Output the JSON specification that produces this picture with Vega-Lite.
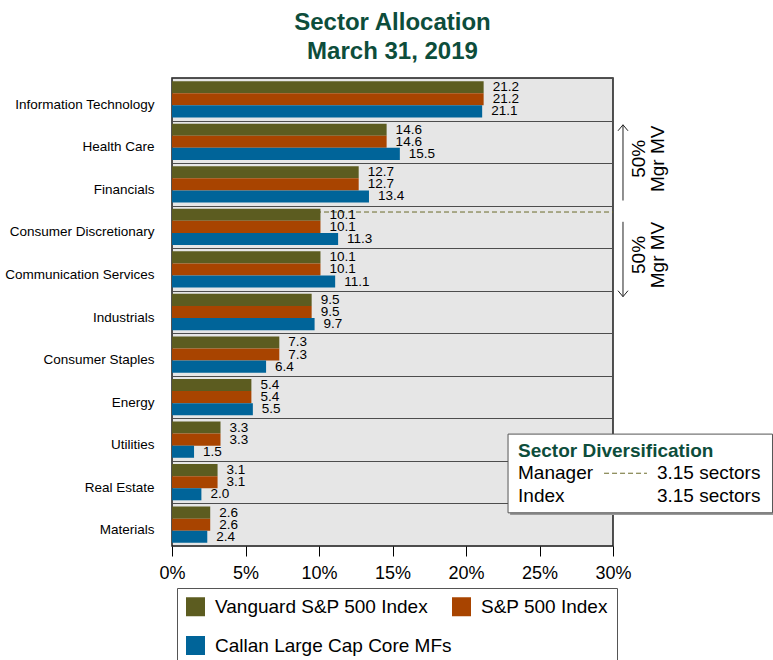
{
  "$schema": "https://vega.github.io/schema/vega-lite/v6.json",
  "autosize": {"type": "none"},
  "padding": {"left": 172, "top": 78, "right": 160, "bottom": 114},
  "width": 441,
  "height": 468,
  "background": "white",
  "config": {
    "font": "Liberation Sans",
    "view": {"fill": "#E6E6E6", "stroke": "#1a1a1a", "strokeWidth": 1.5},
    "axisX": {
      "grid": false,
      "domain": false,
      "tickSize": 10,
      "tickColor": "#000000",
      "tickWidth": 1,
      "labelFontSize": 18,
      "labelPadding": 8,
      "labelColor": "#000000",
      "labelFlush": false
    },
    "legend": {
      "padding": 9,
      "strokeColor": "#555555",
      "fillColor": "white",
      "symbolType": "square",
      "symbolSize": 361,
      "symbolStrokeWidth": 0,
      "symbolOpacity": 1,
      "labelFontSize": 19,
      "labelOffset": 10,
      "labelColor": "#000000",
      "labelLimit": 0,
      "rowPadding": 19,
      "columnPadding": 0
    }
  },
  "title": {
    "text": ["Sector Allocation", "March 31, 2019"],
    "fontSize": 24,
    "fontWeight": "bold",
    "color": "#0d4d3b",
    "anchor": "middle",
    "frame": "group",
    "lineHeight": 29,
    "offset": 7
  },
  "datasets": {
    "alloc": [
      {"sector": "Information Technology", "series": "Vanguard S&P 500 Index", "value": 21.2},
      {"sector": "Information Technology", "series": "S&P 500 Index", "value": 21.2},
      {"sector": "Information Technology", "series": "Callan Large Cap Core MFs", "value": 21.1},
      {"sector": "Health Care", "series": "Vanguard S&P 500 Index", "value": 14.6},
      {"sector": "Health Care", "series": "S&P 500 Index", "value": 14.6},
      {"sector": "Health Care", "series": "Callan Large Cap Core MFs", "value": 15.5},
      {"sector": "Financials", "series": "Vanguard S&P 500 Index", "value": 12.7},
      {"sector": "Financials", "series": "S&P 500 Index", "value": 12.7},
      {"sector": "Financials", "series": "Callan Large Cap Core MFs", "value": 13.4},
      {"sector": "Consumer Discretionary", "series": "Vanguard S&P 500 Index", "value": 10.1},
      {"sector": "Consumer Discretionary", "series": "S&P 500 Index", "value": 10.1},
      {"sector": "Consumer Discretionary", "series": "Callan Large Cap Core MFs", "value": 11.3},
      {"sector": "Communication Services", "series": "Vanguard S&P 500 Index", "value": 10.1},
      {"sector": "Communication Services", "series": "S&P 500 Index", "value": 10.1},
      {"sector": "Communication Services", "series": "Callan Large Cap Core MFs", "value": 11.1},
      {"sector": "Industrials", "series": "Vanguard S&P 500 Index", "value": 9.5},
      {"sector": "Industrials", "series": "S&P 500 Index", "value": 9.5},
      {"sector": "Industrials", "series": "Callan Large Cap Core MFs", "value": 9.7},
      {"sector": "Consumer Staples", "series": "Vanguard S&P 500 Index", "value": 7.3},
      {"sector": "Consumer Staples", "series": "S&P 500 Index", "value": 7.3},
      {"sector": "Consumer Staples", "series": "Callan Large Cap Core MFs", "value": 6.4},
      {"sector": "Energy", "series": "Vanguard S&P 500 Index", "value": 5.4},
      {"sector": "Energy", "series": "S&P 500 Index", "value": 5.4},
      {"sector": "Energy", "series": "Callan Large Cap Core MFs", "value": 5.5},
      {"sector": "Utilities", "series": "Vanguard S&P 500 Index", "value": 3.3},
      {"sector": "Utilities", "series": "S&P 500 Index", "value": 3.3},
      {"sector": "Utilities", "series": "Callan Large Cap Core MFs", "value": 1.5},
      {"sector": "Real Estate", "series": "Vanguard S&P 500 Index", "value": 3.1},
      {"sector": "Real Estate", "series": "S&P 500 Index", "value": 3.1},
      {"sector": "Real Estate", "series": "Callan Large Cap Core MFs", "value": 2.0},
      {"sector": "Materials", "series": "Vanguard S&P 500 Index", "value": 2.6},
      {"sector": "Materials", "series": "S&P 500 Index", "value": 2.6},
      {"sector": "Materials", "series": "Callan Large Cap Core MFs", "value": 2.4}
    ],
    "dash": [
      {"x": 0, "x2": 30, "y": 3.15},
      {"x": 29.39, "x2": 32.31, "y": 9.29}
    ],
    "box": [{"x": 22.86, "x2": 40.85, "y": 8.37, "y2": 10.22}],
    "shadow": [{"x": 23.0, "x2": 40.99, "y": 8.42, "y2": 10.27}],
    "boxTitle": [{"x": 23.54, "y": 8.76, "label": "Sector Diversification"}],
    "boxText": [
      {"x": 23.54, "y": 9.29, "label": "Manager"},
      {"x": 32.99, "y": 9.29, "label": "3.15 sectors"},
      {"x": 23.54, "y": 9.83, "label": "Index"},
      {"x": 32.99, "y": 9.83, "label": "3.15 sectors"}
    ],
    "arrows": [
      {"x": 30.68, "y": 1.10, "y2": 2.88},
      {"x": 30.68, "y": 3.38, "y2": 5.14}
    ],
    "headUp": [{"x": 30.68, "y": 1.10}],
    "headDown": [{"x": 30.68, "y": 5.14}],
    "rotText": [
      {"x": 31.78, "y": 1.9, "label": "50%"},
      {"x": 33.03, "y": 1.9, "label": "Mgr MV"},
      {"x": 31.78, "y": 4.16, "label": "50%"},
      {"x": 33.03, "y": 4.16, "label": "Mgr MV"}
    ]
  },
  "layer": [
    {
      "encoding": {
        "x": {"field": "x", "type": "quantitative", "scale": {"domain": [0, 30], "nice": false, "zero": false}, "title": null, "axis": {"title": null, "values": [0, 5, 10, 15, 20, 25, 30], "labelExpr": "datum.value + '%'"}},
        "y": {"field": "y", "type": "quantitative", "scale": {"domain": [0, 11], "nice": false, "zero": false, "reverse": true}, "axis": null, "title": null}
      },
      "layer": [
        {
          "data": {"name": "dash"},
          "mark": {"type": "rule", "color": "#6b6b2a", "strokeWidth": 1, "strokeDash": [5, 3]},
          "encoding": {"x2": {"field": "x2"}}
        },
        {
          "data": {"name": "shadow"},
          "mark": {"type": "rect", "fill": "#9a9a9a", "stroke": null},
          "encoding": {"x2": {"field": "x2"}, "y2": {"field": "y2"}}
        },
        {
          "data": {"name": "box"},
          "mark": {"type": "rect", "fill": "white", "stroke": "#555555", "strokeWidth": 1},
          "encoding": {"x2": {"field": "x2"}, "y2": {"field": "y2"}}
        },
        {
          "data": {"name": "dash"},
          "transform": [{"filter": "datum.y > 5"}],
          "mark": {"type": "rule", "color": "#6b6b2a", "strokeWidth": 1, "strokeDash": [5, 3]},
          "encoding": {"x2": {"field": "x2"}}
        },
        {
          "data": {"name": "boxTitle"},
          "mark": {"type": "text", "align": "left", "baseline": "middle", "fontSize": 19, "fontWeight": "bold", "color": "#0d4d3b"},
          "encoding": {"text": {"field": "label"}}
        },
        {
          "data": {"name": "boxText"},
          "mark": {"type": "text", "align": "left", "baseline": "middle", "fontSize": 19, "color": "#000000"},
          "encoding": {"text": {"field": "label"}}
        },
        {
          "data": {"name": "arrows"},
          "mark": {"type": "rule", "color": "#222222", "strokeWidth": 1},
          "encoding": {"y2": {"field": "y2"}}
        },
        {
          "data": {"name": "headUp"},
          "mark": {"type": "point", "shape": "M-1,1.2L0,0L1,1.2", "filled": false, "stroke": "#222222", "strokeWidth": 1, "size": 100, "opacity": 1}
        },
        {
          "data": {"name": "headDown"},
          "mark": {"type": "point", "shape": "M-1,-1.2L0,0L1,-1.2", "filled": false, "stroke": "#222222", "strokeWidth": 1, "size": 100, "opacity": 1}
        },
        {
          "data": {"name": "rotText"},
          "mark": {"type": "text", "align": "center", "baseline": "middle", "angle": 270, "fontSize": 19, "color": "#000000"},
          "encoding": {"text": {"field": "label"}}
        }
      ]
    },
    {
      "data": {"name": "alloc"},
      "encoding": {
        "y": {
          "field": "sector",
          "type": "nominal",
          "sort": ["Information Technology", "Health Care", "Financials", "Consumer Discretionary", "Communication Services", "Industrials", "Consumer Staples", "Energy", "Utilities", "Real Estate", "Materials"],
          "scale": {"paddingInner": 0, "paddingOuter": 0},
          "title": null,
          "axis": {
            "domain": false,
            "ticks": false,
            "tickSize": 0,
            "grid": true,
            "tickBand": "extent",
            "gridColor": "#4d4d4d",
            "gridWidth": 1,
            "gridOpacity": 1,
            "labelFontSize": 13.5,
            "labelPadding": 18,
            "labelOffset": 5,
            "labelColor": "#000000",
            "labelLimit": 0,
            "title": null
          }
        },
        "yOffset": {
          "field": "series",
          "type": "nominal",
          "sort": ["Vanguard S&P 500 Index", "S&P 500 Index", "Callan Large Cap Core MFs"],
          "scale": {"paddingInner": 0, "paddingOuter": 0.26}
        },
        "x": {
          "field": "value",
          "type": "quantitative",
          "scale": {"domain": [0, 30], "nice": false, "zero": false},
          "title": null,
          "axis": {"title": null, "values": [0, 5, 10, 15, 20, 25, 30], "labelExpr": "datum.value + '%'"}
        }
      },
      "layer": [
        {
          "mark": {"type": "bar"},
          "encoding": {
            "color": {
              "field": "series",
              "type": "nominal",
              "scale": {
                "domain": ["Vanguard S&P 500 Index", "S&P 500 Index", "Callan Large Cap Core MFs"],
                "range": ["#5c5c20", "#a84400", "#006499"]
              },
              "legend": {
                "title": null,
                "orient": "none",
                "legendX": 5,
                "legendY": 510,
                "direction": "horizontal",
                "columns": 2
              }
            }
          }
        },
        {
          "mark": {"type": "text", "align": "left", "baseline": "middle", "dx": 9, "fontSize": 13.5, "color": "#000000"},
          "encoding": {"text": {"field": "value", "type": "quantitative", "format": ".1f"}}
        }
      ]
    }
  ],
  "resolve": {"scale": {"y": "independent"}}
}
